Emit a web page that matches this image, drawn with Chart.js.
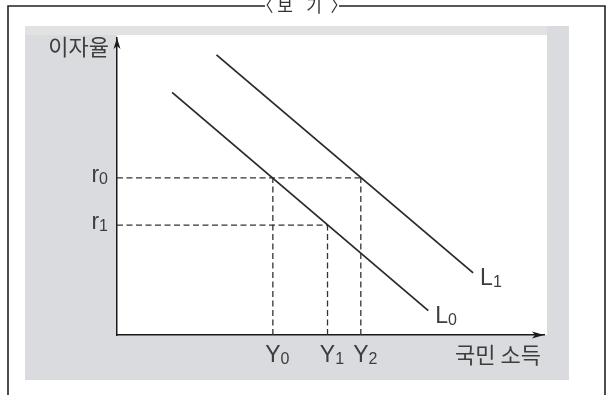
<!DOCTYPE html>
<html>
<head>
<meta charset="utf-8">
<script src="https://cdn.jsdelivr.net/npm/chart.js@4.4.0/dist/chart.umd.min.js"></script>
<style>
  html, body { margin: 0; padding: 0; background: #fff; }
  #wrap { width: 607px; height: 395px; }
</style>
</head>
<body>
<div id="wrap"><canvas id="chart" width="607" height="395"></canvas></div>
<script>
// both axes run 0..100 (x = 국민 소득, y = 이자율)
const curveL0 = [{ x: 12.9, y: 81.7 }, { x: 72.9, y: 8.2 }];
const curveL1 = [{ x: 23.3, y: 94.3 }, { x: 83.4, y: 20.9 }];
const curveNames = ['0', '1'];

// equilibrium levels
const rateLevels = [52.9, 37.0];          // r0, r1
const rateNames = ['0', '1'];
const incomeLevels = [36.5, 49.3, 57.1];  // Y0, Y1, Y2
const incomeNames = ['0', '1', '2'];
// dashed guides: r0 runs out to Y2, r1 to Y1; Y0,Y2 rise to r0, Y1 to r1
const rateReach = [2, 1];
const incomeReach = [0, 1, 0];

const yTitle = '이자율';
const xTitle = '국민 소득';
const boxTitle = ['〈', '보', '기', '〉'];
const boxTitleX = [265, 285, 314, 339];

const INK = '#2a2a2a';
const TEXT = '#3d3d3d';

const guides = [];
rateLevels.forEach((r, i) => {
    guides.push([{ x: 0, y: r }, { x: incomeLevels[rateReach[i]], y: r }]);
});
incomeLevels.forEach((v, i) => {
    guides.push([{ x: v, y: 0 }, { x: v, y: rateLevels[incomeReach[i]] }]);
});

const datasets = [
    { data: curveL0, borderColor: INK, borderWidth: 1.8 },
    { data: curveL1, borderColor: INK, borderWidth: 1.8 }
].concat(guides.map(g => ({
    data: g, borderColor: '#333', borderWidth: 1.3, borderDash: [6, 3.5]
})));
datasets.forEach(d => { d.pointRadius = 0; d.pointHoverRadius = 0; d.fill = false; });

const MAIN_FONT = '23px "Liberation Sans", Arial, sans-serif';
const SUB_FONT = '16px "Liberation Sans", Arial, sans-serif';

// letter with a smaller subscript; anchor: 'center' (main letter centred on x), 'left' or 'right'
function subLabel(ctx, main, sub, x, base, anchor) {
    ctx.font = MAIN_FONT;
    const mw = ctx.measureText(main).width;
    ctx.font = SUB_FONT;
    const sw = ctx.measureText(sub).width;
    let left = x;
    if (anchor === 'center') left = x - mw / 2;
    if (anchor === 'right') left = x - mw - sw;
    ctx.textAlign = 'left';
    ctx.textBaseline = 'alphabetic';
    ctx.fillStyle = TEXT;
    ctx.font = MAIN_FONT;
    ctx.fillText(main, left, base);
    ctx.font = SUB_FONT;
    ctx.fillText(sub, left + mw, base + 2);
}

const paperPlugin = {
    id: 'paper',
    beforeDraw(chart) {
        const ctx = chart.ctx;
        const ca = chart.chartArea;
        ctx.save();
        ctx.fillStyle = '#fff';
        ctx.fillRect(0, 0, chart.width, chart.height);
        // outer frame (open at the bottom)
        ctx.strokeStyle = '#222';
        ctx.lineWidth = 1.6;
        ctx.beginPath();
        ctx.moveTo(8, chart.height);
        ctx.lineTo(8, 6);
        ctx.lineTo(605, 6);
        ctx.lineTo(605, chart.height);
        ctx.stroke();
        ctx.fillStyle = '#fff';
        ctx.fillRect(265, 0, 74, 14);
        ctx.fillStyle = '#333';
        ctx.font = '17px "Noto Sans CJK KR", sans-serif';
        ctx.textAlign = 'center';
        ctx.textBaseline = 'middle';
        boxTitle.forEach((t, i) => ctx.fillText(t, boxTitleX[i], 6));
        // grey panel
        ctx.fillStyle = '#d9dbde';
        ctx.fillRect(25, 26, 544, 354);
        ctx.fillStyle = '#e2e2e3';
        ctx.fillRect(25, 26, ca.right - 22, 9);
        // white plotting field
        ctx.fillStyle = '#fff';
        ctx.fillRect(ca.left, ca.top - 3, ca.right + 3 - ca.left, ca.bottom - ca.top + 3);
        ctx.restore();
    },
    afterDraw(chart) {
        const ctx = chart.ctx;
        const ca = chart.chartArea;
        const xs = chart.scales.x;
        const ys = chart.scales.y;
        ctx.save();
        // arrow heads
        ctx.fillStyle = '#1a1a1a';
        ctx.beginPath();
        ctx.moveTo(ca.right, ca.bottom);
        ctx.lineTo(ca.right - 12, ca.bottom - 3.5);
        ctx.lineTo(ca.right - 9, ca.bottom);
        ctx.lineTo(ca.right - 12, ca.bottom + 3.5);
        ctx.closePath();
        ctx.fill();
        ctx.beginPath();
        ctx.moveTo(ca.left, ca.top);
        ctx.lineTo(ca.left - 3.5, ca.top + 11);
        ctx.lineTo(ca.left, ca.top + 8);
        ctx.lineTo(ca.left + 3.5, ca.top + 11);
        ctx.closePath();
        ctx.fill();
        // axis titles
        ctx.fillStyle = TEXT;
        ctx.font = '22px "Noto Sans CJK KR", sans-serif';
        ctx.textBaseline = 'middle';
        ctx.textAlign = 'right';
        ctx.fillText(yTitle, ca.left - 8, ca.top + 9);
        ctx.fillText(xTitle, ca.right - 3, ca.bottom + 20);
        // tick labels
        rateLevels.forEach((r, i) => {
            subLabel(ctx, 'r', rateNames[i], ca.left - 9, ys.getPixelForValue(r) + 4, 'right');
        });
        incomeLevels.forEach((v, i) => {
            subLabel(ctx, 'Y', incomeNames[i], xs.getPixelForValue(v), ca.bottom + 27, 'center');
        });
        // curve names next to the lower ends
        [curveL0, curveL1].forEach((c, i) => {
            const end = c[c.length - 1];
            subLabel(ctx, 'L', curveNames[i], xs.getPixelForValue(end.x) + 7, ys.getPixelForValue(end.y) + 12, 'left');
        });
        ctx.restore();
    }
};

const axisOpts = {
    type: 'linear', min: 0, max: 100, display: true,
    grid: { display: false, drawTicks: false },
    ticks: { display: false },
    border: { display: true, color: '#1a1a1a', width: 1.5 },
    title: { display: false }
};

new Chart(document.getElementById('chart').getContext('2d'), {
    type: 'line',
    data: { datasets: datasets },
    options: {
        responsive: false,
        animation: false,
        events: [],
        layout: { padding: { left: 117, right: 63, top: 38, bottom: 60 } },
        scales: { x: axisOpts, y: Object.assign({}, axisOpts) },
        plugins: { legend: { display: false }, tooltip: { enabled: false } }
    },
    plugins: [paperPlugin]
});
</script>
</body>
</html>
